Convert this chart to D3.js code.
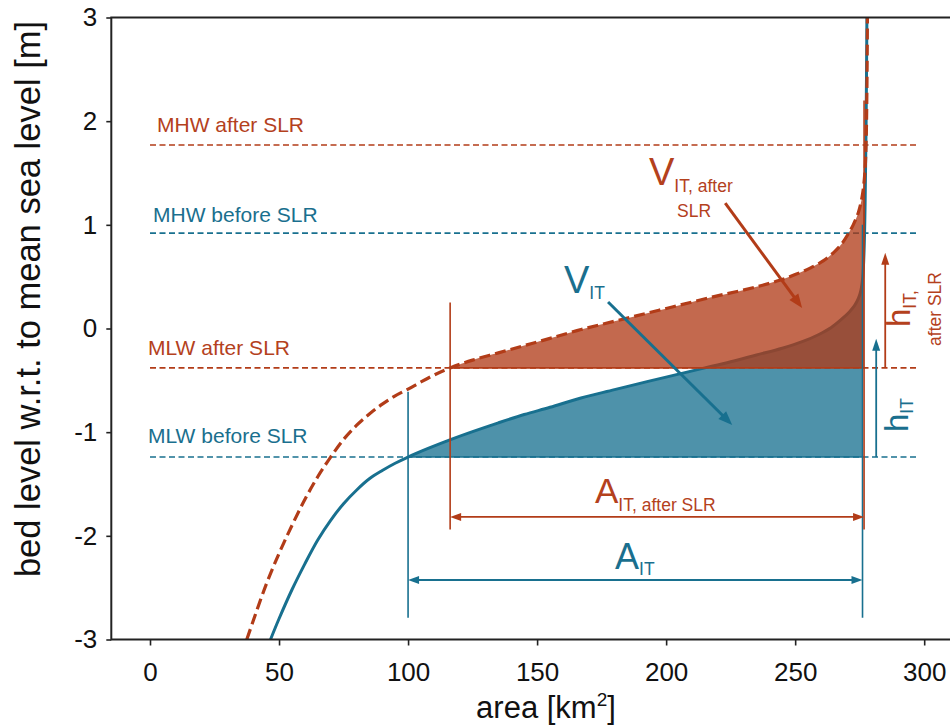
<!DOCTYPE html>
<html>
<head>
<meta charset="utf-8">
<script src="https://cdn.jsdelivr.net/npm/d3@7"></script>
<style>
  body { margin: 0; background: #fff; }
  svg { display: block; }
  text { font-family: "Liberation Sans", Arial, Helvetica, sans-serif; }
</style>
</head>
<body>
<svg id="chart" width="950" height="727"></svg>
<script>
// Hypsometric curve before sea level rise (area in km², bed level in m)
const areaBefore  = [46.7, 50, 55, 60, 65, 70, 75, 80, 85, 90, 95, 100, 108, 116.7, 125, 135, 145, 155, 167, 180, 193, 204, 215, 225, 235, 245, 253, 259, 264, 268, 271, 273, 274.5, 275.5, 276.2, 276.7, 277.1, 277.5, 277.8];
const levelBefore = [-3.0, -2.80, -2.52, -2.27, -2.04, -1.85, -1.69, -1.56, -1.45, -1.37, -1.30, -1.24, -1.155, -1.07, -0.995, -0.91, -0.83, -0.76, -0.67, -0.59, -0.51, -0.445, -0.38, -0.32, -0.255, -0.19, -0.125, -0.06, 0.01, 0.09, 0.16, 0.22, 0.29, 0.37, 0.5, 0.75, 1.2, 2.0, 3.0];

// Hypsometric curve after sea level rise
const areaAfter  = [37.5, 40, 45, 50, 55, 60, 65, 70, 75, 80, 85, 90, 95, 100, 105, 110, 116.3, 125, 135, 145, 155, 167, 180, 193, 206, 219, 229, 237, 244, 250, 256, 261, 265, 268, 270.5, 272.5, 274.5, 276, 277, 277.5, 277.8, 278.0];
const levelAfter = [-3.0, -2.82, -2.47, -2.17, -1.90, -1.65, -1.43, -1.24, -1.07, -0.935, -0.825, -0.73, -0.65, -0.585, -0.515, -0.45, -0.38, -0.305, -0.235, -0.165, -0.095, -0.01, 0.07, 0.15, 0.23, 0.31, 0.365, 0.415, 0.465, 0.52, 0.585, 0.655, 0.735, 0.815, 0.91, 1.0, 1.12, 1.28, 1.5, 1.8, 2.3, 3.0];

// Tidal levels
const tideLabels = ["MHW after SLR", "MHW before SLR", "MLW after SLR", "MLW before SLR"];
const tideLevels = [1.77, 0.92, -0.38, -1.24];

// Intertidal extents (area at MLW, total basin area)
const itAreaBefore = [100.0, 276.1];
const itAreaAfter  = [116.3, 276.7];

const xTicks = [0, 50, 100, 150, 200, 250, 300];
const yTicks = [-3, -2, -1, 0, 1, 2, 3];

const RED = "#b23c18", BLUE = "#18708f";
const RED_TXT = "#b4411d", BLUE_TXT = "#1a6f8e";

const svg = d3.select("#chart");
const x = d3.scaleLinear().domain([-15, 310]).range([111.3, 950]);
const y = d3.scaleLinear().domain([-3, 3]).range([639.5, 17.5]);

svg.append("defs").append("clipPath").attr("id", "plotClip")
  .append("rect").attr("x", 111.3).attr("y", 17.5).attr("width", 950 - 111.3).attr("height", 639.5 - 17.5);

const plot = svg.append("g").attr("clip-path", "url(#plotClip)");

function pts(areas, levels) { return levels.map((l, i) => ({ a: areas[i], l })); }
const before = pts(areaBefore, levelBefore);
const after = pts(areaAfter, levelAfter);

function interp(p, lev) {
  for (let i = 1; i < p.length; i++) {
    if (lev <= p[i].l) {
      const t = (lev - p[i - 1].l) / (p[i].l - p[i - 1].l);
      return p[i - 1].a + t * (p[i].a - p[i - 1].a);
    }
  }
  return p[p.length - 1].a;
}
function band(p, lo, hi) {
  const out = [{ l: lo, a: interp(p, lo) }];
  p.forEach(d => { if (d.l > lo + 0.005 && d.l < hi - 0.005) out.push(d); });
  out.push({ l: hi, a: interp(p, hi) });
  return out;
}

const smooth = d3.curveCatmullRom.alpha(0.5);
const lineGen = d3.line().curve(smooth).x(d => x(d.a)).y(d => y(d.l));
function areaGen(bound) {
  return d3.area().curve(smooth)
    .y(d => y(d.l))
    .x0(d => x(Math.min(d.a, bound)))
    .x1(x(bound));
}

// Tidal level reference lines
const tideColors = [RED, BLUE, RED, BLUE];
tideLevels.forEach((lv, i) => {
  plot.append("line")
    .attr("x1", x(0)).attr("x2", x(297))
    .attr("y1", y(lv)).attr("y2", y(lv))
    .attr("stroke", tideColors[i]).attr("stroke-width", 1.6)
    .attr("stroke-dasharray", "6,3.5");
});

const mlwB = tideLevels[3], mhwB = tideLevels[1];
const mlwA = tideLevels[2], mhwA = tideLevels[0];

// Intertidal volume before SLR
plot.append("path")
  .attr("d", areaGen(itAreaBefore[1])(band(before, mlwB, mhwB)))
  .attr("fill", "#16708f").attr("fill-opacity", 0.76);
plot.append("line")
  .attr("x1", x(itAreaBefore[0])).attr("x2", x(itAreaBefore[1]))
  .attr("y1", y(mlwB)).attr("y2", y(mlwB))
  .attr("stroke", BLUE).attr("stroke-width", 1.6);

// Curve before SLR
plot.append("path").attr("d", lineGen(before))
  .attr("fill", "none").attr("stroke", BLUE).attr("stroke-width", 3);

// Intertidal volume after SLR
plot.append("path")
  .attr("d", areaGen(itAreaAfter[1])(band(after, mlwA, mhwA)))
  .attr("fill", "#b03a17").attr("fill-opacity", 0.76);
plot.append("line")
  .attr("x1", x(itAreaAfter[0])).attr("x2", x(itAreaAfter[1]))
  .attr("y1", y(mlwA)).attr("y2", y(mlwA))
  .attr("stroke", RED).attr("stroke-width", 1.6);

// Curve after SLR
plot.append("path").attr("d", lineGen(after))
  .attr("fill", "none").attr("stroke", RED).attr("stroke-width", 3.2)
  .attr("stroke-dasharray", "11,5");

// Extension lines of the intertidal area dimensions
function vline(a, l0, l1, color) {
  plot.append("line")
    .attr("x1", x(a)).attr("x2", x(a)).attr("y1", y(l0)).attr("y2", y(l1))
    .attr("stroke", color).attr("stroke-width", 1.6);
}
vline(itAreaBefore[0], -0.61, -2.79, BLUE);
vline(itAreaBefore[1], 1.0, -2.79, BLUE);
vline(itAreaAfter[0], 0.25, -1.94, RED);
vline(itAreaAfter[1], 2.2, -1.94, RED);

// Arrow helper: line with filled head(s)
function arrow(p0, p1, color, width, headLen, headW, both) {
  const [x0, y0] = p0, [x1, y1] = p1;
  const dx = x1 - x0, dy = y1 - y0, len = Math.hypot(dx, dy);
  const ux = dx / len, uy = dy / len;
  const s0 = both ? headLen * 0.8 : 0;
  plot.append("line")
    .attr("x1", x0 + ux * s0).attr("y1", y0 + uy * s0)
    .attr("x2", x1 - ux * headLen * 0.8).attr("y2", y1 - uy * headLen * 0.8)
    .attr("stroke", color).attr("stroke-width", width);
  function head(tx, ty, dirx, diry) {
    const bx = tx - dirx * headLen, by = ty - diry * headLen;
    const pnx = -diry, pny = dirx;
    plot.append("path")
      .attr("d", `M${tx},${ty}L${bx + pnx * headW / 2},${by + pny * headW / 2}L${bx - pnx * headW / 2},${by - pny * headW / 2}Z`)
      .attr("fill", color);
  }
  head(x1, y1, ux, uy);
  if (both) head(x0, y0, -ux, -uy);
}

// Area dimension arrows
arrow([x(itAreaAfter[0]), y(-1.818)], [x(itAreaAfter[1]), y(-1.818)], RED, 1.8, 11, 8, true);
arrow([x(itAreaBefore[0]), y(-2.426)], [x(itAreaBefore[1]), y(-2.426)], BLUE, 1.8, 11, 8, true);

// Height arrows
arrow([x(281.4), y(mlwB)], [x(281.4), y(-0.10)], BLUE, 1.8, 12, 8, false);
arrow([x(284.9), y(mlwA)], [x(284.9), y(0.73)], RED, 1.8, 12, 8, false);

// Volume pointers
arrow([x(177.5), y(0.256)], [x(225.6), y(-0.93)], BLUE, 3, 14, 11, false);
arrow([x(222.9), y(1.21)], [x(252.7), y(0.198)], RED, 3, 14, 11, false);

// Tidal level labels
const tideLabelX = [157, 153, 148, 148];
const tideLabelY = [132, 222, 355, 443];
tideLabels.forEach((t, i) => {
  svg.append("text").attr("x", tideLabelX[i]).attr("y", tideLabelY[i])
    .attr("font-size", 21).attr("fill", i % 2 === 0 ? RED_TXT : BLUE_TXT).text(t);
});

// Symbol labels with subscripts
function symbol(px, py, main, sub, color, dy, size, rot) {
  const t = svg.append("text").attr("fill", color);
  if (rot) t.attr("transform", `translate(${px},${py}) rotate(-90)`);
  else t.attr("x", px).attr("y", py);
  t.append("tspan").attr("font-size", size).text(main);
  t.append("tspan").attr("font-size", 17.5).attr("dy", dy).text(sub);
  return t;
}
symbol(564, 293, "V", "IT", BLUE_TXT, 6, 38, false);
symbol(649, 185, "V", "IT, after", RED_TXT, 7, 38, false);
svg.append("text").attr("x", 677).attr("y", 217).attr("font-size", 17.5).attr("fill", RED_TXT).text("SLR");
symbol(595, 503, "A", "IT, after SLR", RED_TXT, 8, 35, false);
symbol(615, 569, "A", "IT", BLUE_TXT, 6, 36, false);
symbol(908, 432, "h", "IT", BLUE_TXT, 5, 33, true);
symbol(910, 327, "h", "IT,", RED_TXT, 6, 33, true);
svg.append("text").attr("transform", "translate(941,272) rotate(-90)")
  .attr("text-anchor", "end").attr("font-size", 17.5).attr("fill", RED_TXT).text("after SLR");

// Axes
const axisColor = "#222";
const gx = svg.append("g").attr("transform", "translate(0,639.5)")
  .call(d3.axisBottom(x).tickValues(xTicks).tickFormat(d => String(d)).tickSize(6).tickPadding(17));
const gy = svg.append("g").attr("transform", "translate(111.3,0)")
  .call(d3.axisLeft(y).tickValues(yTicks).tickFormat(d => String(d)).tickSize(5).tickPadding(9));
[gx, gy].forEach(g => {
  g.select(".domain").remove();
  g.selectAll(".tick line").attr("stroke", axisColor).attr("stroke-width", 1.6);
  g.selectAll(".tick text").attr("fill", "#111").attr("font-size", 26)
    .attr("font-family", '"Liberation Sans", Arial, sans-serif');
});
// Frame
svg.append("path")
  .attr("d", `M950,17.5H111.3V639.5H950`)
  .attr("fill", "none").attr("stroke", axisColor).attr("stroke-width", 2);

// Axis titles
const xt = svg.append("text").attr("x", 546).attr("y", 718).attr("text-anchor", "middle")
  .attr("font-size", 31).attr("fill", "#111");
xt.append("tspan").text("area [km");
xt.append("tspan").attr("font-size", 19).attr("dy", -12).text("2");
xt.append("tspan").attr("dy", 12).text("]");

svg.append("text").attr("transform", "translate(40,299) rotate(-90)")
  .attr("text-anchor", "middle").attr("font-size", 34.5).attr("fill", "#111")
  .text("bed level w.r.t. to mean sea level [m]");
</script>
</body>
</html>
